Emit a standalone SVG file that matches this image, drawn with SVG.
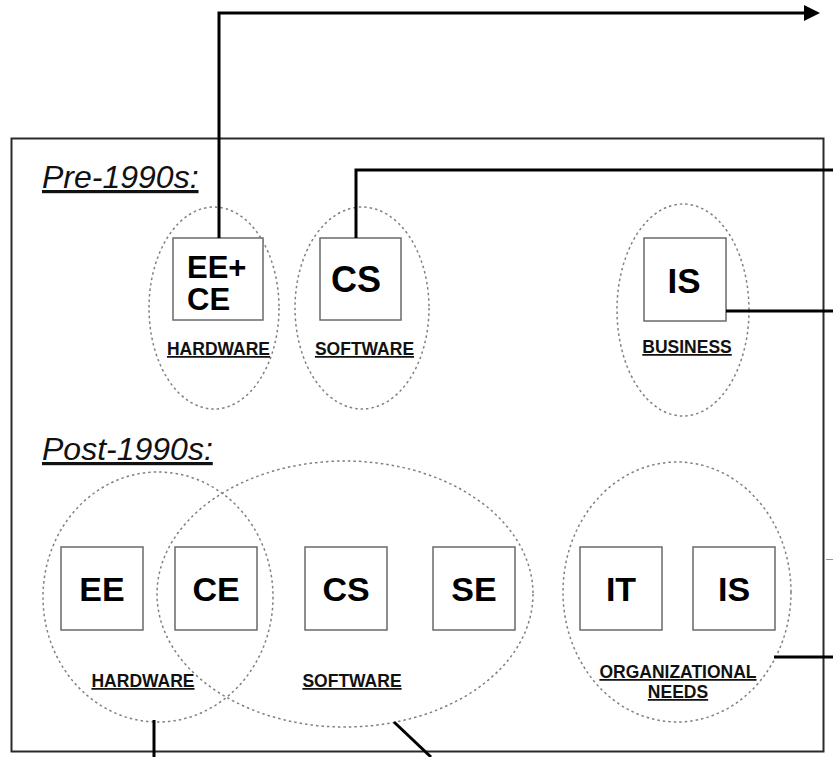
<svg xmlns="http://www.w3.org/2000/svg" width="833" height="757" viewBox="0 0 833 757">
<style>
.frame{fill:none;stroke:#2a2a2a;stroke-width:2}
.grp{fill:none;stroke:#808080;stroke-width:1.5;stroke-dasharray:2.5 3}
.box{fill:#fff;stroke:#6a6a6a;stroke-width:1.5}
.big{font-family:"Liberation Sans",Arial,sans-serif;font-weight:bold;font-size:34px;fill:#000;text-anchor:middle}
.lbl{font-family:"Liberation Sans",Arial,sans-serif;font-weight:bold;font-size:17.5px;fill:#111;text-anchor:middle;text-decoration:underline}
.era{font-family:"Liberation Sans",Arial,sans-serif;font-style:italic;font-size:32px;fill:#111;text-decoration:underline}
.conn{fill:none;stroke:#000;stroke-width:3}
</style>
<defs>
<marker id="ah" markerUnits="userSpaceOnUse" markerWidth="16" markerHeight="18" refX="2" refY="9" orient="auto">
<path d="M0,1 L16,9 L0,17 Z" fill="#000"/>
</marker>
</defs>
<rect x="0" y="0" width="833" height="757" fill="#fff"/>
<rect class="frame" x="11.5" y="138.5" width="812" height="613"/>
<text class="era" x="42" y="188">Pre-1990s:</text>
<text class="era" x="42" y="460">Post-1990s:</text>

<g id="pre-hardware">
<ellipse class="grp" cx="214" cy="308" rx="65" ry="101"/>
<rect class="box" x="173" y="238" width="90" height="82"/>
<text class="big" x="187" y="278" style="text-anchor:start;font-size:31px">EE+</text>
<text class="big" x="187" y="310" style="text-anchor:start;font-size:31px">CE</text>
<text class="lbl" x="218.5" y="355">HARDWARE</text>
</g>
<g id="pre-software">
<ellipse class="grp" cx="362" cy="308" rx="67" ry="101"/>
<rect class="box" x="320" y="238" width="81" height="82"/>
<text class="big" x="356" y="292" style="font-size:36px">CS</text>
<text class="lbl" x="364.5" y="355">SOFTWARE</text>
</g>
<g id="pre-business">
<ellipse class="grp" cx="683" cy="310" rx="66" ry="106"/>
<rect class="box" x="644" y="238" width="82" height="83"/>
<text class="big" x="684" y="293" style="font-size:35px">IS</text>
<text class="lbl" x="687" y="353">BUSINESS</text>
</g>

<g id="post-hardware">
<ellipse class="grp" cx="158" cy="597" rx="115" ry="125"/>
<text class="lbl" x="143" y="687">HARDWARE</text>
</g>
<g id="post-software">
<ellipse class="grp" cx="345" cy="594" rx="188" ry="133"/>
<text class="lbl" x="352" y="687">SOFTWARE</text>
</g>
<g id="post-org">
<ellipse class="grp" cx="677" cy="592" rx="114" ry="130"/>
<text class="lbl" x="678" y="678">ORGANIZATIONAL</text>
<text class="lbl" x="678" y="698">NEEDS</text>
</g>
<g id="ee"><rect class="box" x="61" y="547" width="82" height="83"/><text class="big" x="102" y="601">EE</text></g>
<g id="ce"><rect class="box" x="175" y="547" width="82" height="83"/><text class="big" x="216" y="601">CE</text></g>
<g id="cs"><rect class="box" x="305" y="547" width="82" height="83"/><text class="big" x="346" y="601">CS</text></g>
<g id="se"><rect class="box" x="433" y="547" width="82" height="83"/><text class="big" x="474" y="601">SE</text></g>
<g id="it"><rect class="box" x="580" y="547" width="82" height="83"/><text class="big" x="621" y="601">IT</text></g>
<g id="is"><rect class="box" x="693" y="547" width="82" height="83"/><text class="big" x="734" y="601">IS</text></g>

<g id="connectors">
<path class="conn" d="M219,238 V13 H806" marker-end="url(#ah)"/>
<path class="conn" d="M356,238 V170 H833"/>
<path class="conn" d="M726,311 H833"/>
<path class="conn" d="M774,657 H833"/>
<path class="conn" d="M154,720 V757"/>
<path class="conn" d="M394,722 L431,757"/>
<path d="M826,559.5 H833" stroke="#999" stroke-width="1"/>
</g>
</svg>
